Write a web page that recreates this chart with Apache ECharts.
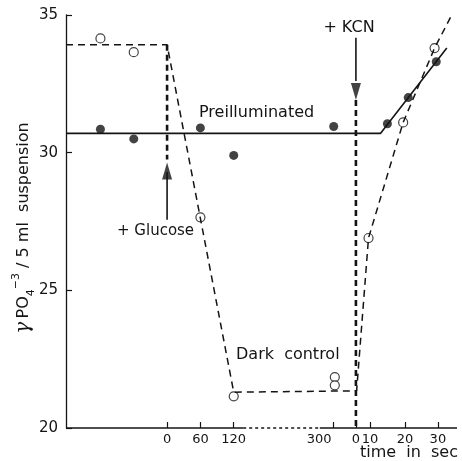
<!DOCTYPE html>
<html><head><meta charset="utf-8">
<script src="https://cdn.jsdelivr.net/npm/echarts@6/dist/echarts.min.js"></script>
<style>html,body{margin:0;padding:0;background:#fff}#c{width:462px;height:461px}</style>
</head><body><div id="c"></div>
<script>
// ---------------- data ----------------
const yTicks = [20, 25, 30, 35];
const glucoseTicks = [0, 60, 120, 300];          // seconds after glucose
const kcnTicks = [0, 10, 20, 30];                // seconds after KCN
// measured points: [time, value]
const preGlucose = [[-120, 30.85], [-60, 30.5], [60, 30.9], [120, 29.9], [300, 30.95]];
const preKcn = [[15, 31.05], [21, 32.0], [29.5, 33.3]];
const darkGlucose = [[-120, 34.15], [-60, 33.65], [60, 27.65], [120, 21.15], [302, 21.85], [302, 21.55]];
const darkKcn = [[9, 26.9], [19.5, 31.1], [29, 33.8]];
// fitted lines
const preFitGlucose = [[-182, 30.7]];
const preFitKcn = [[0, 30.7], [13, 30.7], [32.7, 33.8]];
const darkFitGlucose = [[-182, 33.92], [0, 33.92], [120, 21.3]];
const darkFitKcn = [[0.5, 21.35], [9, 26.9], [19.5, 31.1], [29, 33.8], [34.5, 35.07]];

// ---------------- scale (broken time axis) ----------------
const X_MIN = -182, X_MAX = 522;
const KCN_AT = 340;                       // glucose-time where the KCN clock starts
const kcnKnots = [0, 10, 20, 30];
const kcnSpan = [0, 25.2, 88.2, 147.6];   // stretch of the KCN scale as drawn
function kcnX(s) {
  for (let i = 0; i < kcnKnots.length - 1; i++) {
    if (s <= kcnKnots[i + 1] || i === kcnKnots.length - 2) {
      const f = (s - kcnKnots[i]) / (kcnKnots[i + 1] - kcnKnots[i]);
      return KCN_AT + kcnSpan[i] + f * (kcnSpan[i + 1] - kcnSpan[i]);
    }
  }
}
const fromKcn = arr => arr.map(p => [kcnX(p[0]), p[1]]);
const AXIS_BREAK = [137, 275];

const tickPos = [], tickLab = {};
glucoseTicks.forEach(t => { tickPos.push(t); tickLab[t.toFixed(1)] = t === 300 ? '{s|300}' : String(t); });
kcnTicks.forEach(s => { const x = kcnX(s); tickPos.push(x); tickLab[x.toFixed(1)] = String(s); });

// annotation anchors (value units)
const GLU_DASH = [33.92, 29.75], GLU_SHAFT = [27.56, 29.3], GLU_TIP = 29.64;
const KCN_SHAFT = [34.17, 32.6], KCN_TIP = 31.91;

const FONT = 'DejaVu Sans';
const INK = '#141414';
const lineS = (data, style, extra) => Object.assign({
  type: 'line', data, symbol: 'none', silent: true, clip: false, animation: false,
  lineStyle: Object.assign({ color: INK, width: 1.5 }, style)
}, extra || {});

const chart = echarts.init(document.getElementById('c'), null, { renderer: 'canvas' });
chart.setOption({
  backgroundColor: '#fff',
  animation: false,
  grid: { left: 66, right: 5, top: 15, bottom: 33 },
  xAxis: {
    type: 'value', min: X_MIN, max: X_MAX,
    axisLine: { show: false, onZero: false },
    splitLine: { show: false },
    axisTick: { show: true, inside: true, length: 6, customValues: tickPos, lineStyle: { color: INK, width: 1.2 } },
    axisLabel: {
      customValues: tickPos, margin: 5, color: INK, fontFamily: FONT, fontSize: 13,
      formatter: v => tickLab[Number(v).toFixed(1)] || '',
      rich: { s: { fontFamily: FONT, fontSize: 13, color: INK, padding: [0, 29, 0, 0] } }
    }
  },
  yAxis: {
    type: 'value', min: yTicks[0], max: yTicks[yTicks.length - 1], interval: 5,
    axisLine: { show: true, onZero: false, lineStyle: { color: INK, width: 1.3 } },
    axisTick: { show: true, inside: true, length: 6, lineStyle: { color: INK, width: 1.2 } },
    axisLabel: { margin: 8, color: INK, fontFamily: FONT, fontSize: 15 },
    splitLine: { show: false }
  },
  series: [
    // x axis line with dotted break
    lineS([[X_MIN, 20], [AXIS_BREAK[0], 20]], { width: 1.3 }),
    lineS([[AXIS_BREAK[0], 20], [AXIS_BREAK[1], 20]], { width: 1.3, type: [3, 3] }),
    lineS([[AXIS_BREAK[1], 20], [X_MAX, 20]], { width: 1.3 }),
    // fitted lines
    lineS(preFitGlucose.concat(fromKcn(preFitKcn)), { width: 1.6 }),
    lineS(darkFitGlucose.concat(fromKcn(darkFitKcn)), { width: 1.5, type: [7, 5] }),
    // glucose marker
    lineS([[0, GLU_DASH[0]], [0, GLU_DASH[1]]], { width: 2.6, type: [6, 4] }),
    lineS([[0, GLU_SHAFT[0]], [0, GLU_SHAFT[1]]], { width: 1.6 }),
    // KCN marker
    lineS([[KCN_AT, KCN_SHAFT[0]], [KCN_AT, KCN_SHAFT[1]]], { width: 1.6 }),
    lineS([[KCN_AT, KCN_TIP], [KCN_AT, 20]], { width: 2.6, type: [6, 4] }),
    {
      type: 'scatter', silent: true, animation: false, clip: false,
      data: [
        { value: [0, GLU_TIP], symbolRotate: 0, symbolOffset: [0, '50%'] },
        { value: [KCN_AT, KCN_TIP], symbolRotate: 180, symbolOffset: [0, '-50%'] }
      ],
      symbol: 'triangle', symbolSize: [10, 17],
      itemStyle: { color: INK }
    },
    // points
    {
      type: 'scatter', silent: true, animation: false, clip: false,
      data: preGlucose.concat(fromKcn(preKcn)),
      symbol: 'circle', symbolSize: 9, itemStyle: { color: INK }
    },
    {
      type: 'scatter', silent: true, animation: false, clip: false,
      data: darkGlucose.concat(fromKcn(darkKcn)),
      symbol: 'circle', symbolSize: 9,
      itemStyle: { color: '#fff', borderColor: INK, borderWidth: 1.2 }
    }
  ],
  graphic: [
    { type: 'text', x: 199, y: 113, style: { text: 'Preilluminated', font: '16px "DejaVu Sans"', fill: INK, align: 'left', verticalAlign: 'middle' } },
    { type: 'text', x: 236, y: 355, style: { text: 'Dark  control', font: '16px "DejaVu Sans"', fill: INK, align: 'left', verticalAlign: 'middle' } },
    { type: 'text', x: 117, y: 231, style: { text: '+ Glucose', font: '15px "DejaVu Sans"', fill: INK, align: 'left', verticalAlign: 'middle' } },
    { type: 'text', x: 349, y: 28, style: { text: '+ KCN', font: '16px "DejaVu Sans"', fill: INK, align: 'center', verticalAlign: 'middle' } },
    { type: 'text', x: 458, y: 453, style: { text: 'time  in  sec', font: '16px "DejaVu Sans"', fill: INK, align: 'right', verticalAlign: 'middle' } },
    {
      type: 'text', x: 24, y: 228, rotation: Math.PI / 2,
      style: {
        text: '{g|γ} {n|PO}{sub|4}{sup|−3}{n| / 5 ml  suspension}',
        align: 'center', verticalAlign: 'middle', fill: INK,
        rich: {
          g: { fontFamily: 'DejaVu Serif', fontStyle: 'italic', fontSize: 20, fill: INK, lineHeight: 26, verticalAlign: 'middle' },
          n: { fontFamily: FONT, fontSize: 16, fill: INK, lineHeight: 26, verticalAlign: 'middle' },
          sub: { fontFamily: FONT, fontSize: 11, fill: INK, lineHeight: 26, verticalAlign: 'bottom' },
          sup: { fontFamily: FONT, fontSize: 11, fill: INK, lineHeight: 26, verticalAlign: 'top' }
        }
      }
    }
  ]
});
</script></body></html>
